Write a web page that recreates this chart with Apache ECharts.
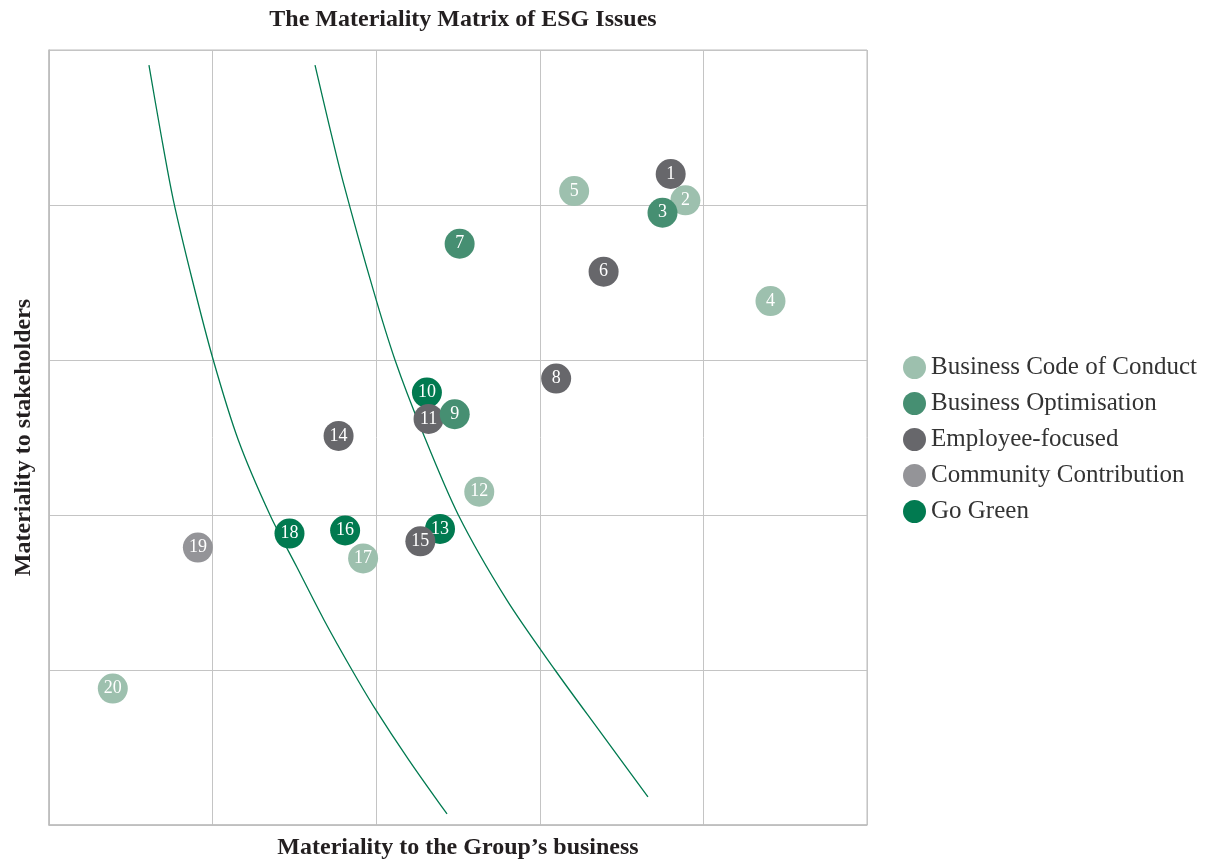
<!DOCTYPE html>
<html>
<head>
<meta charset="utf-8">
<script src="https://cdn.jsdelivr.net/npm/echarts@6/dist/echarts.min.js"></script>
<style>
html,body{margin:0;padding:0;background:#fff;}
#chart{width:1223px;height:864px;}
</style>
</head>
<body>
<div id="chart"></div>
<script>
const categories = ['Business Code of Conduct','Business Optimisation','Employee-focused','Community Contribution','Go Green'];

const codeIds = [2, 4, 5, 12, 17, 20];
const codeX   = [3.89, 4.41, 3.21, 2.63, 1.92, 0.39];
const codeY   = [4.03, 3.38, 4.09, 2.15, 1.72, 0.88];

const optIds = [3, 7, 9];
const optX   = [3.75, 2.51, 2.48];
const optY   = [3.95, 3.75, 2.65];

const empIds = [1, 6, 8, 11, 14, 15];
const empX   = [3.80, 3.39, 3.10, 2.32, 1.77, 2.27];
const empY   = [4.20, 3.57, 2.88, 2.62, 2.51, 1.83];

const commIds = [19];
const commX   = [0.91];
const commY   = [1.79];

const greenIds = [10, 13, 16, 18];
const greenX   = [2.31, 2.39, 1.81, 1.47];
const greenY   = [2.79, 1.91, 1.90, 1.88];

const curve1X = [0.611, 0.682, 0.760, 0.876, 1.004, 1.157, 1.351, 1.514, 1.681, 1.852, 1.987, 2.200, 2.433];
const curve1Y = [4.903, 4.471, 4.032, 3.516, 3.000, 2.484, 2.000, 1.666, 1.323, 1.000, 0.761, 0.419, 0.071];
const curve2X = [1.626, 1.708, 1.795, 1.982, 2.115, 2.278, 2.502, 2.798, 3.093, 3.374, 3.661];
const curve2Y = [4.903, 4.535, 4.161, 3.452, 3.000, 2.548, 2.000, 1.452, 1.000, 0.594, 0.181];

const colors = {
  'Business Code of Conduct': '#9DC0AE',
  'Business Optimisation': '#468F72',
  'Employee-focused': '#67676B',
  'Community Contribution': '#949498',
  'Go Green': '#017A50'
};

const FONT = '"Liberation Serif", "DejaVu Serif", serif';

function pts(xs, ys, ids) {
  return xs.map((x, i) => ids ? [x, ys[i], ids[i]] : [x, ys[i]]);
}

function scatter(name, xs, ys, ids) {
  return {
    name: name,
    type: 'scatter',
    symbol: 'circle',
    symbolSize: 30,
    data: pts(xs, ys, ids),
    itemStyle: { color: colors[name], opacity: 1 },
    label: {
      show: true,
      position: 'inside',
      formatter: p => String(p.value[2]),
      color: '#fff',
      fontFamily: FONT,
      fontSize: 18
    },
    emphasis: { disabled: true }
  };
}

function curve(xs, ys) {
  return {
    type: 'line',
    data: pts(xs, ys),
    smooth: 0.3,
    showSymbol: false,
    symbol: 'none',
    lineStyle: { color: '#017A50', width: 1.3 },
    silent: true,
    z: 1
  };
}

const chart = echarts.init(document.getElementById('chart'));
chart.setOption({
  animation: false,
  backgroundColor: '#fff',
  title: {
    text: 'The Materiality Matrix of ESG Issues',
    left: 458,
    textAlign: 'center',
    top: 3,
    textStyle: { fontFamily: FONT, fontWeight: 'bold', fontSize: 24, color: '#231F20' }
  },
  legend: {
    data: categories,
    orient: 'vertical',
    left: 898,
    top: 350,
    icon: 'circle',
    itemWidth: 23,
    itemHeight: 23,
    itemGap: 11,
    textStyle: { fontFamily: FONT, fontSize: 25, color: '#333' },
    selectedMode: false
  },
  grid: {
    left: 49,
    right: 356,
    top: 50,
    bottom: 39,
    containLabel: false,
    outerBoundsMode: 'none',
    show: true,
    borderColor: '#bdbdbd',
    borderWidth: 1
  },
  xAxis: {
    type: 'value',
    min: 0, max: 5, interval: 1,
    name: 'Materiality to the Group\u2019s business',
    nameLocation: 'middle',
    nameGap: 11,
    nameTextStyle: { fontFamily: FONT, fontWeight: 'bold', fontSize: 24, color: '#231F20' },
    axisLabel: { show: false },
    axisTick: { show: false },
    axisLine: { show: true, lineStyle: { color: '#bdbdbd', width: 1.5 } },
    splitLine: { show: true, lineStyle: { color: '#c4c4c4', width: 1 } }
  },
  yAxis: {
    type: 'value',
    min: 0, max: 5, interval: 1,
    name: 'Materiality to stakeholders',
    nameLocation: 'middle',
    nameGap: 13,
    nameTextStyle: { fontFamily: FONT, fontWeight: 'bold', fontSize: 24, color: '#231F20' },
    axisLabel: { show: false },
    axisTick: { show: false },
    axisLine: { show: true, lineStyle: { color: '#bdbdbd', width: 1.5 } },
    splitLine: { show: true, lineStyle: { color: '#c4c4c4', width: 1 } }
  },
  series: [
    curve(curve1X, curve1Y),
    curve(curve2X, curve2Y),
    scatter('Go Green', greenX, greenY, greenIds),
    scatter('Community Contribution', commX, commY, commIds),
    scatter('Employee-focused', empX, empY, empIds),
    scatter('Business Code of Conduct', codeX, codeY, codeIds),
    scatter('Business Optimisation', optX, optY, optIds)
  ]
});
</script>
</body>
</html>
